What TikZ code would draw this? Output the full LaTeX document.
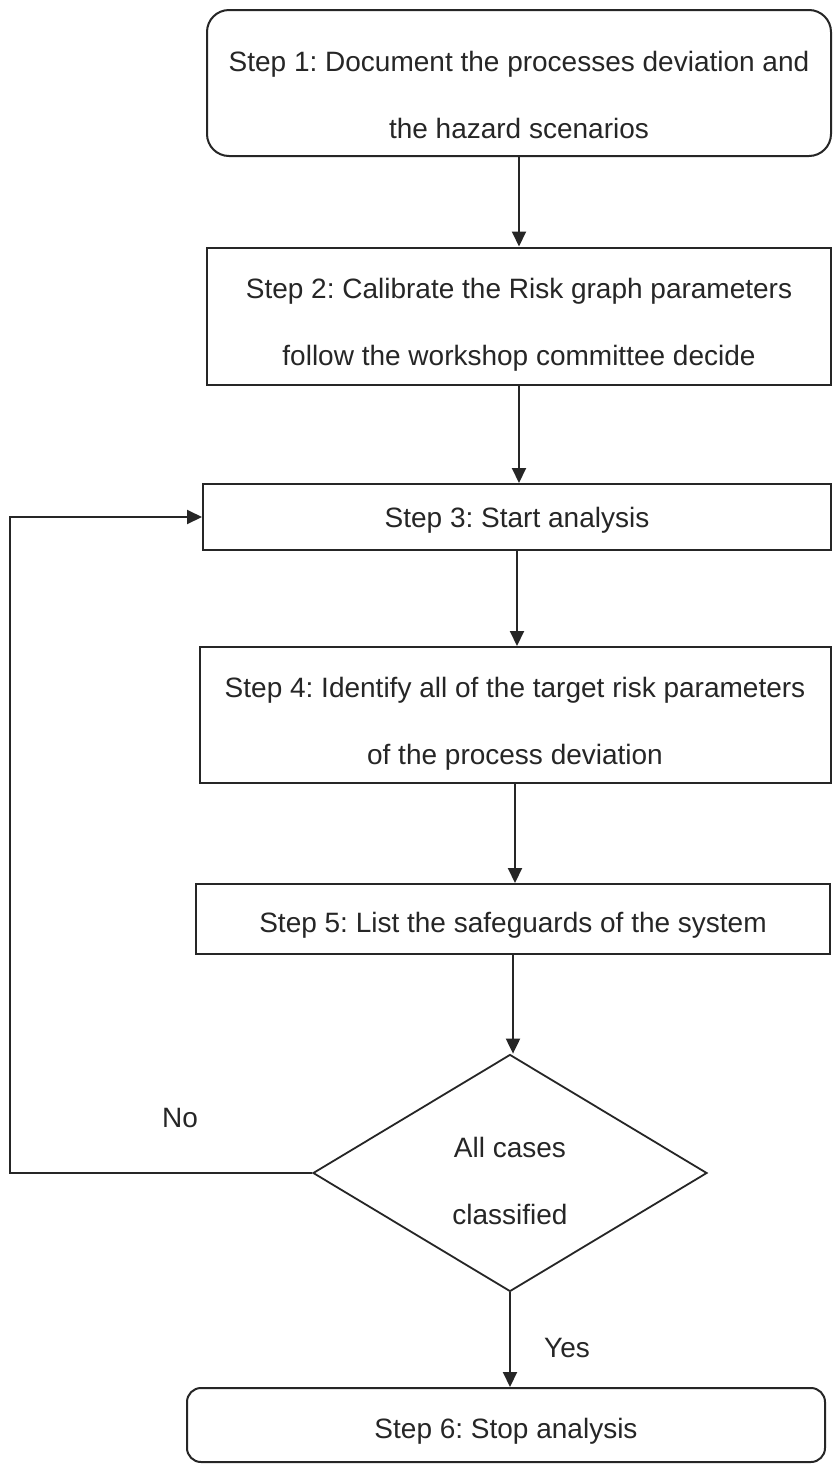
\documentclass[tikz,border=0pt]{standalone}
\usepackage{fontspec}
\setmainfont{Liberation Sans}
\usetikzlibrary{arrows.meta,shapes.geometric}
\frenchspacing
\begin{document}
\begin{tikzpicture}[x=1pt,y=-1pt,
  every node/.style={font=\fontsize{28}{67}\selectfont, text=black!85},
  stepbox/.style={draw=black!85, line width=2pt, align=center, inner sep=0pt},
  roundbox/.style={stepbox, rounded corners=22pt},
  decision/.style={draw=black!85, line width=1.8pt, diamond, align=center, inner sep=0pt},
  flow/.style={draw=black!85, line width=2pt, -{Triangle[length=15pt,width=14pt]}},
  lbl/.style={inner sep=0pt}
]
\useasboundingbox (0,0) rectangle (833,1465);
\clip (0,0) rectangle (833,1465);
\fill[white] (0,0) rectangle (833,1465);

% process steps
\node[roundbox, minimum width=624pt, minimum height=146pt] (b1) at (519,83) {};
\node[lbl, align=center] (t1) at (519,95) {Step 1: Document the processes deviation and\\the hazard scenarios};
\node[stepbox, minimum width=624pt, minimum height=137pt] (b2) at (519,316) {};
\node[lbl, align=center] (t2) at (519,325) {Step 2: Calibrate the Risk graph parameters\\follow the workshop committee decide};
\node[stepbox, minimum width=628pt, minimum height=66pt] (b3) at (517,517) {};
\node[lbl] (t3) at (517,520) {Step 3: Start analysis};
\node[stepbox, minimum width=631pt, minimum height=136pt] (b4) at (515,715) {};
\node[lbl, align=center] (t4) at (515,724) {Step 4: Identify all of the target risk parameters\\of the process deviation};
\node[stepbox, minimum width=634pt, minimum height=70pt] (b5) at (513,919) {};
\node[lbl] (t5) at (513,925) {Step 5: List the safeguards of the system};

% decision
\node[decision, minimum width=394pt, minimum height=237pt] (dec) at (510,1173) {};
\node[lbl, align=center] (td) at (510,1181) {All cases\\classified};

% end
\node[stepbox, rounded corners=14pt, minimum width=638pt, minimum height=74pt] (b6) at (506,1425) {};
\node[lbl] (t6) at (506,1431) {Step 6: Stop analysis};

% connectors
\draw[flow] (b1.south) -- (b1.south |- b2.north);
\draw[flow] (b2.south) -- (b2.south |- b3.north);
\draw[flow] (b3.south) -- (b3.south |- b4.north);
\draw[flow] (b4.south) -- (b4.south |- b5.north);
\draw[flow] (b5.south) -- (b5.south |- dec.north);
\draw[flow] (dec.south) -- (dec.south |- b6.north);

\coordinate (loop) at (10,1170);
\draw[flow] (dec.west) -- (dec.west -| loop) |- (b3.west);

\node[lbl] (no) at (180,1118) {No};
\node[lbl] (yes) at (567,1348) {Yes};
\end{tikzpicture}
\end{document}
